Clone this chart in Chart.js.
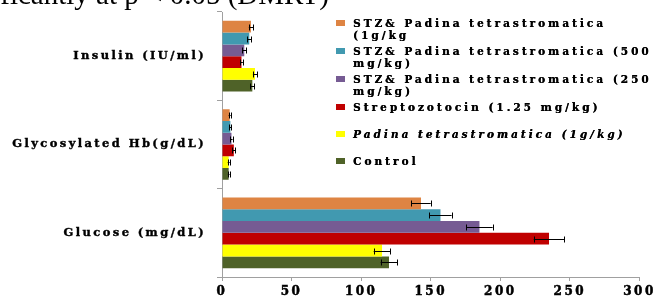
<!DOCTYPE html>
<html>
<head>
<meta charset="utf-8">
<script src="https://cdn.jsdelivr.net/npm/chart.js@4/dist/chart.umd.min.js"></script>
<style>
    html, body { margin: 0; padding: 0; background: #fff; }
    #wrap { position: relative; width: 656px; height: 297px; overflow: hidden; }
    #chart { position: absolute; left: 0; top: 0; }
    #caption {
        position: absolute; right: 327px; top: -22px; white-space: nowrap;
        font-family: "Liberation Serif", serif; font-size: 29px; color: #000;
    }
    #legend {
        position: absolute; left: 336px; top: 17px; width: 330px;
        font-family: "DejaVu Serif", serif; font-weight: bold; font-size: 10.5px;
        letter-spacing: 3px; color: #000; line-height: 12px;
        text-shadow: 0.3px 0 0 #000;
    }
    #legend .item { position: relative; padding-left: 17px; white-space: nowrap; }
    #legend .box { position: absolute; left: 0; top: 3px; width: 9px; height: 6px; }
</style>
</head>
<body>
<div id="wrap">
    <canvas id="chart" width="656" height="297"></canvas>
    <div id="caption">significantly at p &lt; 0.05 (DMRT)</div>
    <div id="legend"></div>
</div>
<script>
const categories = ['Insulin (IU/ml)', 'Glycosylated Hb(g/dL)', 'Glucose (mg/dL)'];
const seriesNames = [
    'STZ& Padina tetrastromatica (1g/kg',
    'STZ& Padina tetrastromatica (500 mg/kg)',
    'STZ& Padina tetrastromatica (250 mg/kg)',
    'Streptozotocin (1.25 mg/kg)',
    'Padina tetrastromatica (1g/kg)',
    'Control'
];
const colours = ['#DE8443', '#4199B0', '#765B93', '#C00000', '#FFFF00', '#4F6228'];

// values per series: [insulin, HbA1c, glucose]
const stz1g = [20.8, 5.5, 143];
const stz500 = [19.6, 6.0, 157];
const stz250 = [16.0, 6.8, 185];
const streptozotocin = [14.0, 8.5, 235];
const padina = [23.7, 4.8, 115];
const control = [21.8, 4.8, 120];

const stz1gErr = [1.5, 0.7, 7];
const stz500Err = [1.5, 0.8, 8];
const stz250Err = [1.5, 0.8, 9.5];
const streptozotocinErr = [1.0, 1.0, 11];
const padinaErr = [1.5, 0.7, 6];
const controlErr = [1.5, 0.6, 6];

const xTicks = [0, 50, 100, 150, 200, 250, 300];

const values = [stz1g, stz500, stz250, streptozotocin, padina, control];
const errors = [stz1gErr, stz500Err, stz250Err, streptozotocinErr, padinaErr, controlErr];

// legend (html so the labels can wrap like the original)
const legendEl = document.getElementById('legend');
const legendGaps = [0, 4, 4, 4, 15, 15];
seriesNames.forEach((name, i) => {
    const item = document.createElement('div');
    item.className = 'item';
    item.style.marginTop = legendGaps[i] + 'px';
    if (i === 4) item.style.fontStyle = 'italic';
    if (i < 3) {
        const cut = i === 0 ? 'STZ& Padina tetrastromatica' : name.slice(0, name.lastIndexOf(' '));
        item.innerHTML = cut + '<br>' + name.slice(cut.length + 1);
    } else {
        item.textContent = name;
    }
    const box = document.createElement('span');
    box.className = 'box';
    box.style.background = colours[i];
    item.appendChild(box);
    legendEl.appendChild(item);
});

const errorBars = {
    id: 'errorBars',
    afterDatasetsDraw(chart) {
        const ctx = chart.ctx;
        const x = chart.scales.x;
        ctx.save();
        ctx.strokeStyle = '#000';
        ctx.lineWidth = 1;
        chart.data.datasets.forEach((ds, i) => {
            const meta = chart.getDatasetMeta(i);
            meta.data.forEach((bar, j) => {
                const v = ds.data[j];
                const e = errors[i][j];
                const x1 = x.getPixelForValue(v - e);
                const x2 = x.getPixelForValue(v + e);
                const y = Math.round(bar.y) + 0.5;
                ctx.beginPath();
                ctx.moveTo(x1, y);
                ctx.lineTo(x2, y);
                ctx.moveTo(Math.round(x1) + 0.5, y - 3);
                ctx.lineTo(Math.round(x1) + 0.5, y + 3);
                ctx.moveTo(Math.round(x2) + 0.5, y - 3);
                ctx.lineTo(Math.round(x2) + 0.5, y + 3);
                ctx.stroke();
            });
        });
        ctx.restore();
    }
};

// wide spaced axis text like the original, set per scale
const scaleSpacing = { x: '2.5px', y: '2.4px' };
const spacedScales = {
    id: 'spacedScales',
    beforeLayout(chart) {
        Object.keys(scaleSpacing).forEach((id) => {
            const scale = chart.scales[id];
            if (!scale || scale._spaced) return;
            const draw = scale.draw.bind(scale);
            scale.draw = (area) => {
                chart.ctx.save();
                chart.ctx.letterSpacing = scaleSpacing[id];
                draw(area);
                chart.ctx.restore();
            };
            scale._spaced = true;
        });
    }
};

const chart = new Chart(document.getElementById('chart').getContext('2d'), {
    type: 'bar',
    data: {
        labels: categories,
        datasets: seriesNames.map((name, i) => ({
            label: name,
            data: values[i],
            backgroundColor: colours[i],
            borderWidth: 0,
            barPercentage: 1,
            categoryPercentage: 0.8
        }))
    },
    options: {
        indexAxis: 'y',
        responsive: false,
        animation: false,
        layout: {
            padding: { top: 12, right: 16, left: 0, bottom: 0 }
        },
        plugins: {
            legend: { display: false },
            tooltip: { enabled: false }
        },
        scales: {
            x: {
                min: 0,
                max: 300,
                afterBuildTicks: (scale) => { scale.ticks = xTicks.map(v => ({ value: v })); },
                afterFit: (scale) => { scale.height = 20; },
                border: { color: '#a0a0a0', width: 1 },
                grid: { drawOnChartArea: false, drawTicks: true, tickLength: 4, color: '#a0a0a0' },
                ticks: {
                    padding: 4,
                    color: '#000',
                    textStrokeColor: '#000',
                    textStrokeWidth: 0.5,
                    font: { family: 'DejaVu Serif', weight: 'bold', size: 12 }
                }
            },
            y: {
                afterFit: (scale) => {
                    scale.width = 222;
                    scale.paddingTop = 0;
                    scale.paddingBottom = 0;
                },
                border: { color: '#a0a0a0', width: 1 },
                grid: { drawOnChartArea: false, drawTicks: true, tickLength: 5, color: '#a0a0a0' },
                ticks: {
                    padding: 11,
                    color: '#000',
                    textStrokeColor: '#000',
                    textStrokeWidth: 0.4,
                    font: { family: 'DejaVu Serif', weight: 'bold', size: 11.5 }
                }
            }
        }
    },
    plugins: [errorBars, spacedScales]
});
</script>
</body>
</html>
